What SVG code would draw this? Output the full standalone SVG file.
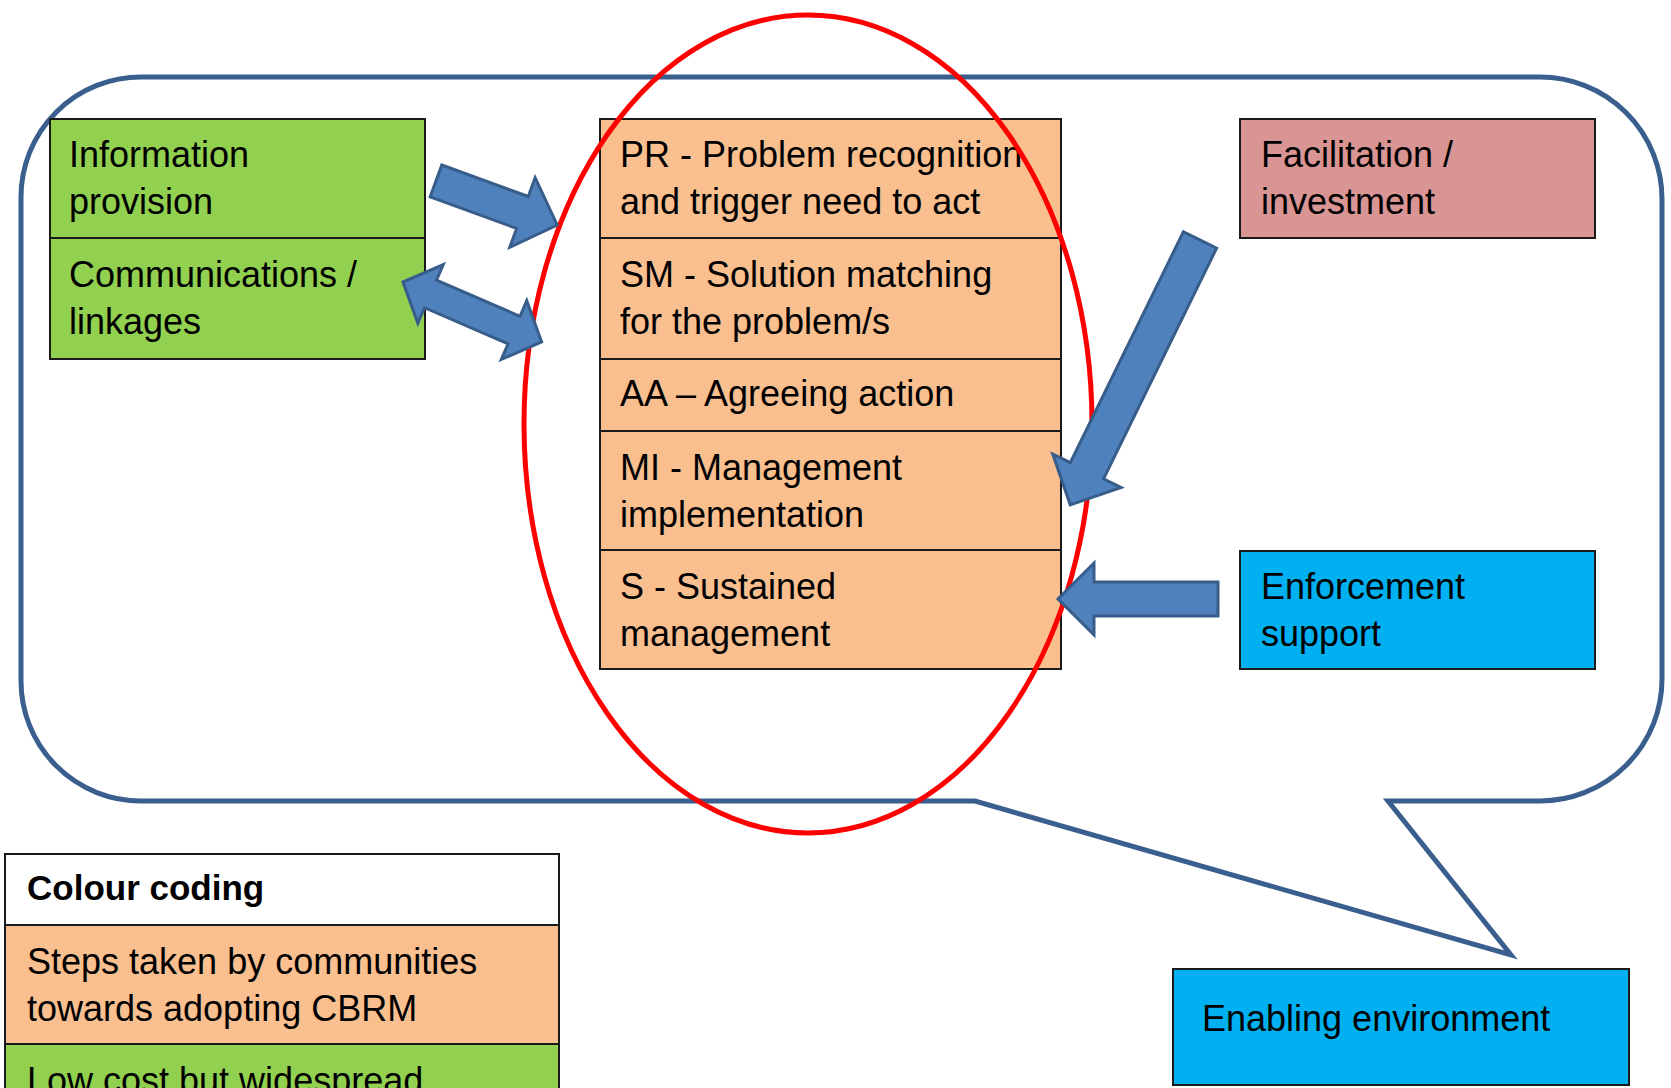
<svg xmlns="http://www.w3.org/2000/svg" width="1671" height="1088" viewBox="0 0 1671 1088">
<style>
text{font-family:"Liberation Sans",Arial,sans-serif;font-size:36px;fill:#000}
.box{stroke:#1a1a1a;stroke-width:2}
.g{fill:#92D050}.o{fill:#F9BF8F}.p{fill:#D99594}.b{fill:#00B0F0}.w{fill:#fff}
.arr{fill:#4F81BD;stroke:#385D8A;stroke-width:3;stroke-linejoin:miter}
</style>
<rect width="1671" height="1088" fill="#fff"/>
<g id="bubble">
<path d="M141,77 H1540 A122,122 0 0 1 1662,199 V679 A122,122 0 0 1 1540,801 H1388 L1511,955 L975,801 H141 A120,120 0 0 1 21,681 V197 A120,120 0 0 1 141,77 Z" fill="none" stroke="#3A5F8E" stroke-width="5"/>
</g>
<g id="info">
<rect class="box g" x="50" y="119" width="375" height="119"/>
<text x="69" y="167">Information</text>
<text x="69" y="214">provision</text>
</g>
<g id="comms">
<rect class="box g" x="50" y="238" width="375" height="121"/>
<text x="69" y="287">Communications /</text>
<text x="69" y="334">linkages</text>
</g>
<g id="pr">
<rect class="box o" x="600" y="119" width="461" height="119"/>
<text x="620" y="167">PR - Problem recognition</text>
<text x="620" y="214">and trigger need to act</text>
</g>
<g id="sm">
<rect class="box o" x="600" y="238" width="461" height="121"/>
<text x="620" y="287">SM - Solution matching</text>
<text x="620" y="334">for the problem/s</text>
</g>
<g id="aa">
<rect class="box o" x="600" y="359" width="461" height="72"/>
<text x="620" y="406">AA – Agreeing action</text>
</g>
<g id="mi">
<rect class="box o" x="600" y="431" width="461" height="119"/>
<text x="620" y="480">MI - Management</text>
<text x="620" y="527">implementation</text>
</g>
<g id="s">
<rect class="box o" x="600" y="550" width="461" height="119"/>
<text x="620" y="599">S - Sustained</text>
<text x="620" y="646">management</text>
</g>
<g id="facilitation">
<rect class="box p" x="1240" y="119" width="355" height="119"/>
<text x="1261" y="167">Facilitation /</text>
<text x="1261" y="214">investment</text>
</g>
<g id="enforcement">
<rect class="box b" x="1240" y="551" width="355" height="118"/>
<text x="1261" y="599">Enforcement</text>
<text x="1261" y="646">support</text>
</g>
<g id="enabling">
<rect class="box b" x="1173" y="969" width="456" height="116"/>
<text x="1202" y="1031">Enabling environment</text>
</g>
<g id="legend">
<rect class="box w" x="5" y="854" width="554" height="71"/>
<text x="27" y="900" font-weight="bold" style="font-size:35px">Colour coding</text>
<rect class="box o" x="5" y="925" width="554" height="119"/>
<text x="27" y="974">Steps taken by communities</text>
<text x="27" y="1021">towards adopting CBRM</text>
<rect class="box g" x="5" y="1044" width="554" height="60"/>
<text x="27" y="1093">Low cost but widespread</text>
</g>
<g id="ellipse">
<ellipse cx="808" cy="424" rx="284" ry="409" fill="none" stroke="#FF0000" stroke-width="5"/>
</g>
<g id="connectors">
<polygon class="arr" transform="translate(436,181) rotate(20)" points="0,-17 92,-17 92,-37 129,0 92,37 92,17 0,17"/>
<polygon class="arr" transform="translate(403,282) rotate(23.4)" points="0,0 30,-32 30,-15 121,-15 121,-32 151,0 121,32 121,15 30,15 30,32"/>
<polygon class="arr" transform="translate(1200,240) rotate(116.1)" points="0,-18.5 257,-18.5 257,-38 295,0 257,38 257,18.5 0,18.5"/>
<polygon class="arr" transform="translate(1218,599) rotate(180)" points="0,-17 124,-17 124,-36 160,0 124,36 124,17 0,17"/>
</g>
</svg>
